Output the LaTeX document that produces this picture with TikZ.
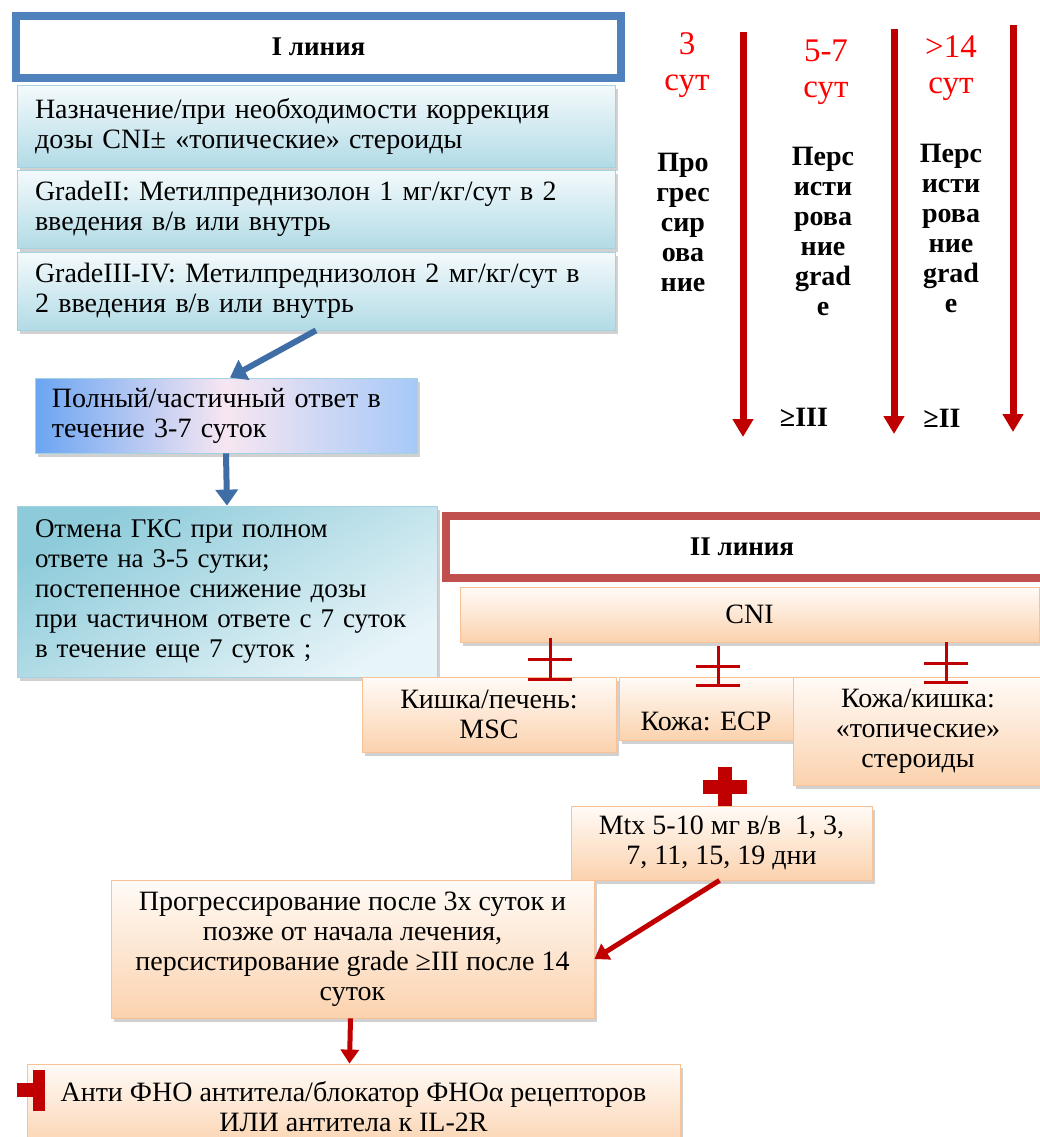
\documentclass[tikz,border=0pt]{standalone}
\usepackage{fontspec}
\setmainfont{Liberation Serif}
\usetikzlibrary{arrows.meta, shadows, positioning}

\definecolor{frameblue}{HTML}{4F81BD}
\definecolor{framered}{HTML}{C0504D}
\definecolor{markred}{HTML}{C00000}
\definecolor{daysred}{HTML}{FF0000}
\definecolor{arrowblue}{HTML}{3F6DA6}
\definecolor{iceTop}{HTML}{F4FAFC}
\definecolor{iceBot}{HTML}{B2DBE6}
\definecolor{iceLine}{HTML}{A3D3E0}
\definecolor{iceDark}{HTML}{8DCBDA}
\definecolor{skyBlue}{HTML}{6BA5F2}
\definecolor{skyPink}{HTML}{F7E6F2}
\definecolor{peachTop}{HTML}{FFFBF7}
\definecolor{peachBot}{HTML}{FBD2AE}
\definecolor{peachLine}{HTML}{F8C196}

\tikzset{
  boxtext/.style={font=\fontsize{14}{15}\selectfont},
  softshadow/.style={drop shadow={shadow xshift=1.5pt, shadow yshift=-2pt, opacity=0.3, fill=black!60}},
  icebox/.style={boxtext, draw=iceLine, top color=iceTop, bottom color=iceBot, softshadow,
    inner xsep=9pt, inner ysep=0pt, align=left},
  peachbox/.style={boxtext, draw=peachLine, top color=peachTop, bottom color=peachBot, softshadow,
    inner sep=0pt, align=center},
  blueframe/.style={draw=frameblue, line width=3.5pt, fill=white, inner sep=0pt,
    font=\fontsize{13.5}{15}\selectfont\bfseries},
  redframe/.style={draw=framered, line width=4pt, fill=white, inner sep=0pt,
    font=\fontsize{13.5}{15}\selectfont\bfseries},
  bluearrow/.style={arrowblue, line width=3pt, -{Triangle[width=11pt,length=8pt]}},
  redarrow/.style={markred, line width=2.5pt, -{Triangle[width=9pt,length=7pt]}},
  timearrow/.style={markred, line width=3.5pt, -{Triangle[width=10pt,length=9pt]}},
  daylabel/.style={daysred, font=\fontsize{16.5}{18}\selectfont, align=center},
  colword/.style={font=\fontsize{14}{15}\selectfont\bfseries, align=center},
  pm/.style={markred, line width=1.5pt}
}

\begin{document}
\begin{tikzpicture}[x=0.5pt, y=-0.5pt]
\useasboundingbox (0,0) rectangle (1040,1137);
\clip (0,0) rectangle (1040,1137);

% --- I линия ---
\node[blueframe, minimum width=303pt, minimum height=31.5pt] (line1) at (318.5,47) {I линия};
\draw[frameblue, line width=0.8pt] ([shift={(7,7)}]line1.north west) rectangle ([shift={(-7,-7)}]line1.south east);

\node[icebox, text width=281pt, minimum height=41pt] (cni1) at (316,126)
  {Назначение/при необходимости коррекция\\дозы CNI± «топические» стероиды};
\node[icebox, text width=281pt, minimum height=39pt] (grade2) at (316,209)
  {GradeII: Метилпреднизолон 1 мг/кг/сут в 2\\введения в/в или внутрь};
\node[icebox, text width=281pt, minimum height=39pt] (grade3) at (316,291)
  {GradeIII-IV: Метилпреднизолон 2 мг/кг/сут в\\2 введения в/в или внутрь};

\node[icebox, draw=iceLine, left color=skyBlue, right color=skyBlue!60, middle color=skyPink,
  text width=174pt, inner xsep=8.5pt, minimum height=37.5pt] (resp) at (226,415.5)
  {Полный/частичный ответ в\\течение 3-7 суток};

\node[icebox, top color=iceDark, bottom color=iceTop!80!iceBot, shading angle=30,
  font=\fontsize{13.5}{15}\selectfont, text width=192pt, minimum height=85.5pt] (taper) at (227,591.5)
  {Отмена ГКС при полном\\ответе на 3-5 сутки;\\постепенное снижение дозы\\при частичном ответе с 7 суток\\в течение еще 7 суток ;};

\draw[bluearrow] (grade3.south) -- ([xshift=2pt]resp.north);
\draw[bluearrow] (resp.south) -- (taper.north);

% --- сроки ---
\coordinate (day3top) at (743,32);   \coordinate (day3end) at (743,437);
\coordinate (day7top) at (894,29);   \coordinate (day7end) at (894,434);
\coordinate (day14top) at (1013,25); \coordinate (day14end) at (1013,432);
\draw[timearrow] (day3top) -- (day3end);
\draw[timearrow] (day7top) -- (day7end);
\draw[timearrow] (day14top) -- (day14end);

\node[daylabel] (d3) at (687,65) {3\\сут};
\node[daylabel] (d7) at (826,72) {5-7\\сут};
\node[daylabel] (d14) at (951,68) {>14\\сут};

\node[colword] (prog) at (683,222) {Про\\грес\\сир\\ова\\ние};
\node[colword] (pers3) at (823,231) {Перс\\исти\\рова\\ние\\grad\\e};
\node[colword] (pers2) at (951,228.5) {Перс\\исти\\рова\\ние\\grad\\e};
\node[colword] (ge3) at (804,417) {≥III};
\node[colword] (ge2) at (942,418) {≥II};

% --- II линия ---
\node[redframe, minimum width=304pt, minimum height=31pt] (line2) at (750,547) {\hspace*{-8pt}II линия};
\draw[framered, line width=0.8pt] ([shift={(7,7)}]line2.north west) rectangle ([shift={(-7,-7)}]line2.south east);

\node[peachbox, minimum width=289.5pt, minimum height=27.5pt] (cni) at (749.5,614.5) {CNI};
\node[peachbox, minimum width=127pt, minimum height=37.5pt] (msc) at (489,714.5) {Кишка/печень:\\MSC};
\node[peachbox, minimum width=87pt, minimum height=31.5pt,
  label={[boxtext, yshift=-6.5pt]center:{Кожа: ECP}}] (ecp) at (706,708.5) {};
\node[peachbox, minimum width=125pt, minimum height=54pt] (skin) at (918,731)
  {Кожа/кишка:\\«топические»\\стероиды};

% знаки ±
\foreach \px/\ptop/\pmid/\pbot in {550/638/659/679, 718/646/666/685, 946/642/663/682}{
  \draw[pm] (\px,\ptop) -- (\px,\pbot);
  \draw[pm] (\px-22,\pmid) -- (\px+22,\pmid);
  \draw[pm] (\px-22,\pbot) -- (\px+22,\pbot);
}

% плюс
\coordinate (plus) at (725,787);
\fill[markred] ([shift={(-7,-20)}]plus) rectangle ([shift={(7,21)}]plus);
\fill[markred] ([shift={(-22,-7)}]plus) rectangle ([shift={(22,7)}]plus);

\node[peachbox, minimum width=150.5pt, minimum height=37pt] (mtx) at (721.5,843)
  {Mtx 5-10 мг в/в~ 1, 3,\\7, 11, 15, 19 дни};
\node[peachbox, minimum width=241.5pt, minimum height=69pt] (late) at (352.5,949)
  {Прогрессирование после 3х суток и\\позже от начала лечения,\\персистирование grade ≥III после 14\\суток};
\node[peachbox, minimum width=326.5pt, minimum height=43pt] (anti) at (353.5,1107)
  {Анти ФНО антитела/блокатор ФНОα рецепторов\\ИЛИ антитела к IL-2R};

\draw[redarrow] ([xshift=-1pt]mtx.south) -- ([yshift=-5pt]late.east);
\draw[redarrow] ([xshift=-1pt]late.south) -- ([xshift=-2pt]anti.north);

% половина плюса у последнего блока
\fill[markred] (33,1070) rectangle (45,1111);
\fill[markred] (17,1083) rectangle (33,1097);
\end{tikzpicture}
\end{document}
